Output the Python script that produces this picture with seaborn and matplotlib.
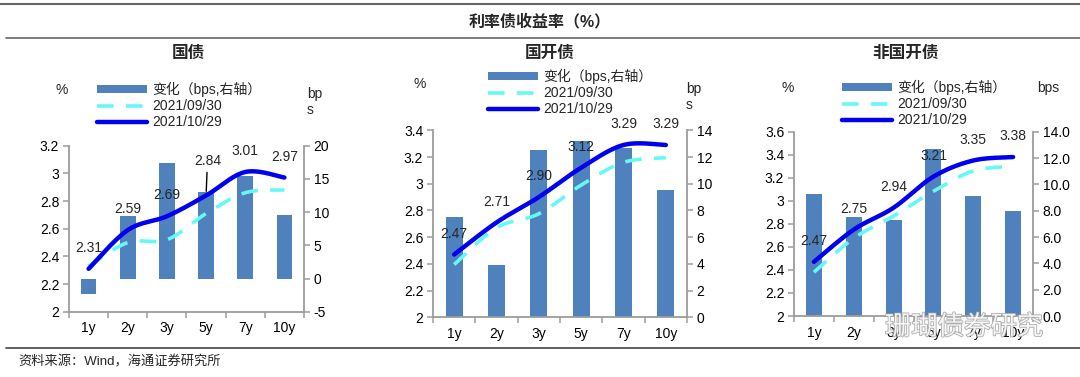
import numpy as np
import pandas as pd
import matplotlib
matplotlib.use("Agg")
import matplotlib.pyplot as plt
import seaborn as sns
from matplotlib.lines import Line2D
from matplotlib.patches import Patch
from matplotlib import patheffects as pe

# ---------------- data ----------------
tenors = ["1y", "2y", "3y", "5y", "7y", "10y"]

gov_0930 = [2.33, 2.50, 2.52, 2.71, 2.86, 2.88]
gov_1029 = [2.31, 2.59, 2.69, 2.84, 3.01, 2.97]
gov_chg = [-2.3, 9.4, 17.4, 13.1, 15.4, 9.5]

cdb_0930 = [2.395, 2.67, 2.775, 2.99, 3.16, 3.195]
cdb_1029 = [2.47, 2.71, 2.90, 3.12, 3.29, 3.29]
cdb_chg = [7.5, 3.9, 12.5, 13.2, 12.7, 9.5]

ncdb_0930 = [2.38, 2.675, 2.867, 3.083, 3.259, 3.30]
ncdb_1029 = [2.47, 2.75, 2.94, 3.21, 3.35, 3.38]
ncdb_chg = [9.3, 7.5, 7.3, 12.7, 9.1, 8.0]

panel_titles = ["国债", "国开债", "非国开债"]
header = "利率债收益率（%）"
source = "资料来源：Wind，海通证券研究所"
legend_labels = ["变化（bps,右轴）", "2021/09/30", "2021/10/29"]
watermark = "珊瑚债券研究"

# ---------------- style ----------------
sns.set_theme(style="white")
plt.rcParams["font.family"] = ["Liberation Sans", "Noto Sans CJK SC", "DejaVu Sans"]
plt.rcParams["axes.unicode_minus"] = False

BAR = "#4F81BD"
CYAN = "#66F8F8"
BLUE = "#0000F0"
SPINE = "#9C9C9C"

W, H = 1080, 377
fig = plt.figure(figsize=(W / 100, H / 100), dpi=100)


def fx(px):
    return px / W


def fy(py):
    return 1 - py / H


def smooth(xs, ys, n=40):
    pts = np.column_stack([xs, ys]).astype(float)
    ext = np.vstack([pts[0], pts, pts[-1]])
    out = []
    t = np.linspace(0, 1, n)[:, None]
    for i in range(1, len(ext) - 2):
        p0, p1, p2, p3 = ext[i - 1], ext[i], ext[i + 1], ext[i + 2]
        seg = 0.5 * ((2 * p1) + (-p0 + p2) * t + (2 * p0 - 5 * p1 + 4 * p2 - p3) * t ** 2
                     + (-p0 + 3 * p1 - 3 * p2 + p3) * t ** 3)
        out.append(seg if i == 1 else seg[1:])
    out = np.vstack(out)
    return out[:, 0], out[:, 1]


panels = [
    dict(d0=gov_0930, d1=gov_1029, chg=gov_chg, box=(69, 145.7, 304, 311.7),
         yl=(2, 3.2), yr=(-5, 20), rstep=5, rfmt="{:g}",
         leg=(97, 82), pct=(62, 90), bps=(307, 102), bps_txt="bp\ns",
         special={3: 20}),
    dict(d0=cdb_0930, d1=cdb_1029, chg=cdb_chg, box=(433, 130.3, 687, 317.3),
         yl=(2, 3.4), yr=(0, 14), rstep=2, rfmt="{:g}",
         leg=(488, 69), pct=(420, 84), bps=(686, 97), bps_txt="bp\ns",
         special={}),
    dict(d0=ncdb_0930, d1=ncdb_1029, chg=ncdb_chg, box=(794, 131.7, 1033, 316),
         yl=(2, 3.6), yr=(0, 14), rstep=2, rfmt="{:.1f}",
         leg=(842, 80), pct=(788, 88), bps=(1037, 88), bps_txt="bps",
         special={}),
]

title_x = [188, 550, 905]

for k, p in enumerate(panels):
    x0, y0, x1, y1 = p["box"]
    ax = fig.add_axes([fx(x0), fy(y1), fx(x1 - x0), (y1 - y0) / H])
    ax2 = ax.twinx()

    df = pd.DataFrame({"tenor": tenors, "chg": p["chg"]})
    sns.barplot(data=df, x="tenor", y="chg", order=tenors, color=BAR,
                saturation=1, width=0.4, ax=ax2, edgecolor="none")

    xs = np.arange(len(tenors))
    sx0, sy0 = smooth(xs, p["d0"])
    sx1, sy1 = smooth(xs, p["d1"])
    sns.lineplot(x=sx0, y=sy0, sort=False, ax=ax, color=CYAN, lw=2.6,
                 estimator=None).lines[-1].set_dashes((4.6, 3.4))
    sns.lineplot(x=sx1, y=sy1, sort=False, ax=ax, color=BLUE, lw=3.2,
                 estimator=None)

    for i, v in enumerate(p["d1"]):
        if i in p["special"]:
            ax.annotate(f"{v:.2f}", (i, v), xytext=(1, p["special"][i]),
                        textcoords="offset points", ha="center", va="bottom",
                        fontsize=10,
                        arrowprops=dict(arrowstyle="-", color="black", lw=1,
                                        shrinkA=1, shrinkB=3))
        else:
            ax.annotate(f"{v:.2f}", (i, v), xytext=(0, 15),
                        textcoords="offset points", ha="center", va="center",
                        fontsize=10)

    ax.set_zorder(ax2.get_zorder() + 1)
    ax.patch.set_visible(False)

    ax.set_xlim(-0.5, len(tenors) - 0.5)
    ax.set_ylim(*p["yl"])
    lt = np.round(np.arange(p["yl"][0], p["yl"][1] + 1e-9, 0.2), 1)
    ax.set_yticks(lt)
    ax.set_yticklabels([f"{v:g}" for v in lt])
    ax2.set_ylim(*p["yr"])
    rt = np.arange(p["yr"][0], p["yr"][1] + 1e-9, p["rstep"])
    ax2.set_yticks(rt)
    ax2.set_yticklabels([p["rfmt"].format(v) for v in rt])

    ax.set_xticks(np.arange(-0.5, len(tenors)))
    ax.set_xticklabels([])
    ax.set_xticks(xs, minor=True)
    ax.set_xticklabels(tenors, minor=True)
    ax.tick_params(axis="x", which="major", direction="out", length=4,
                   color=SPINE, width=1.1, bottom=True)
    ax.tick_params(axis="x", which="minor", length=0, labelsize=10, pad=7,
                   labelcolor="black")
    ax.tick_params(axis="y", direction="out", length=4, color=SPINE, width=1.1,
                   left=True, labelsize=10, pad=3, labelcolor="black")
    ax2.tick_params(axis="y", direction="out", length=4, color=SPINE, width=1.1,
                    right=True, labelsize=10, pad=3, labelcolor="black")
    ax.set_xlabel("")
    ax.set_ylabel("")
    ax2.set_xlabel("")
    ax2.set_ylabel("")
    for a in (ax, ax2):
        for s in a.spines.values():
            s.set_visible(False)
    ax.spines["left"].set_visible(True)
    ax.spines["bottom"].set_visible(True)
    ax2.spines["right"].set_visible(True)
    for s in (ax.spines["left"], ax.spines["bottom"], ax2.spines["right"]):
        s.set_color(SPINE)
        s.set_linewidth(1.3)
    ax.grid(False)
    ax2.grid(False)

    handles = [Patch(facecolor=BAR, edgecolor="none"),
               Line2D([], [], color=CYAN, lw=2.6, dashes=(4.6, 3.4)),
               Line2D([], [], color=BLUE, lw=3.2)]
    fig.legend(handles, legend_labels, loc="upper left",
               bbox_to_anchor=(fx(p["leg"][0]), fy(p["leg"][1])),
               frameon=False, fontsize=10, borderpad=0, borderaxespad=0,
               handlelength=3.6, handleheight=0.5, handletextpad=0.35,
               labelspacing=0.15)

    fig.text(fx(title_x[k]), fy(53), panel_titles[k], ha="center", va="center",
             fontsize=12, fontweight="bold")
    fig.text(fx(p["pct"][0]), fy(p["pct"][1]), "%", ha="center", va="center",
             fontsize=10)
    fig.text(fx(p["bps"][0]), fy(p["bps"][1]), p["bps_txt"], ha="left",
             va="center", fontsize=10, linespacing=1.1)

# header and frame lines
fig.add_artist(Line2D([0, 1], [fy(4), fy(4)], transform=fig.transFigure,
                      color="#666666", lw=1.5))
fig.add_artist(Line2D([fx(6), 1], [fy(38), fy(38)], transform=fig.transFigure,
                      color="#666666", lw=1.2))
fig.add_artist(Line2D([fx(6), 1], [fy(348), fy(348)], transform=fig.transFigure,
                      color="#444444", lw=1.2))
fig.text(0.5, fy(21), header, ha="center", va="center", fontsize=11.5,
         fontweight="bold")
fig.text(fx(18), fy(362), source, ha="left", va="center", fontsize=9.5)

# watermark (semi-transparent outline text, as in the reference)
fig.text(fx(964), fy(327), watermark, ha="center", va="center",
         fontsize=19, color="white", alpha=0.85,
         path_effects=[pe.withStroke(linewidth=1.2, foreground="#a0a0a0")])

fig.savefig("out.png", dpi=100)
